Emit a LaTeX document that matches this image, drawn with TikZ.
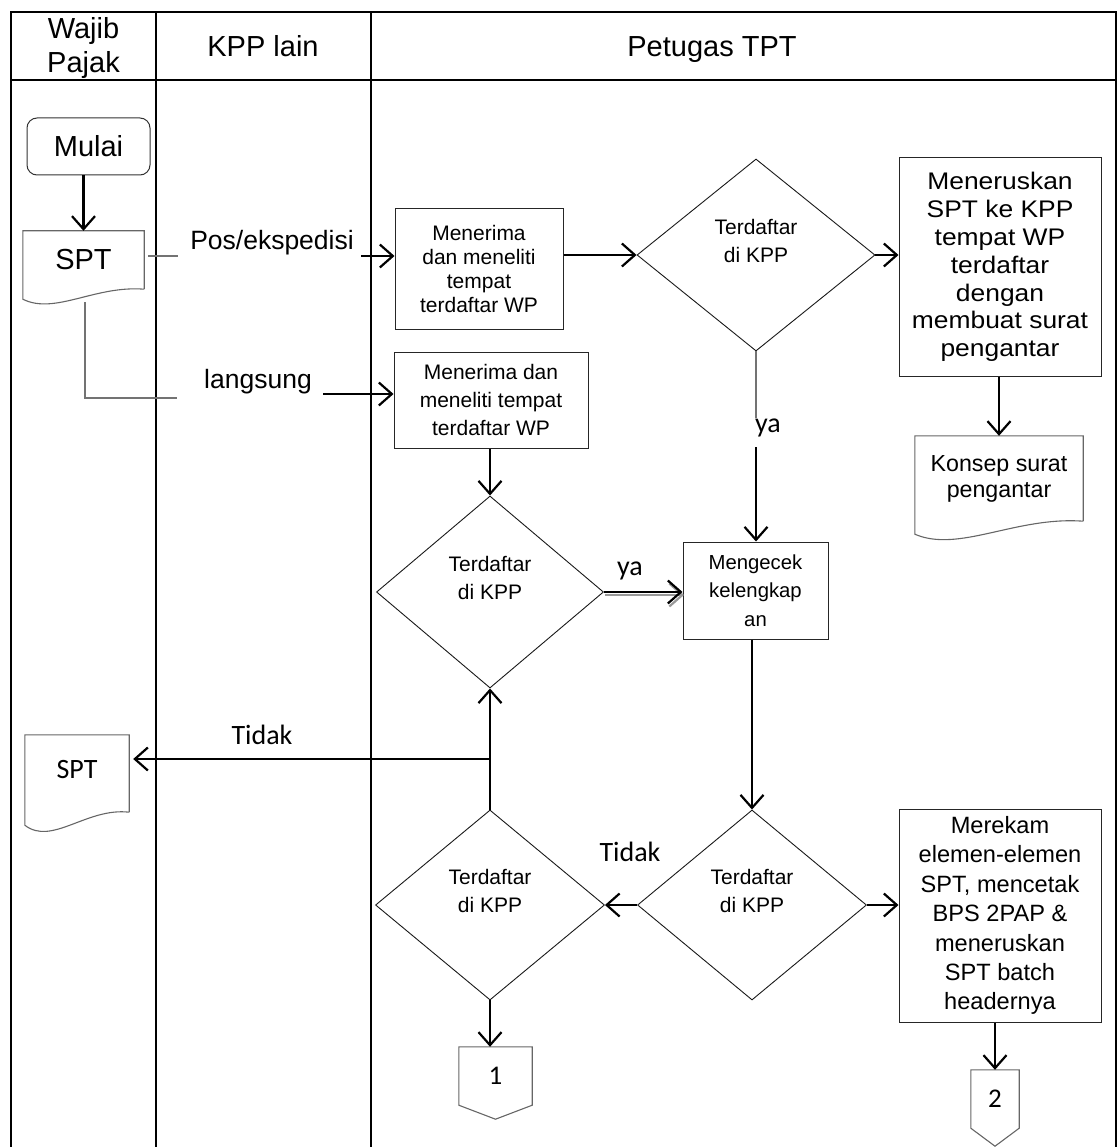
\documentclass[tikz,border=0pt]{standalone}
\usepackage{fontspec}
\setmainfont{Liberation Sans}
\newfontfamily\calibfont{Carlito}
\newfontfamily\boxsanswide[FakeStretch=1.1]{Liberation Sans}
\usetikzlibrary{arrows.meta,shapes.geometric,calc}

\begin{document}
\begin{tikzpicture}[x=1pt,y=-1pt,
  lane/.style={line width=2.6pt},
  hdr/.style={font=\fontsize{29}{33.5}\selectfont, align=center},
  procbox/.style={rectangle, draw=black!85, line width=1pt, align=center, inner sep=0pt},
  decision/.style={diamond, draw=black!90, line width=0.9pt, inner sep=0pt},
  dtext/.style={align=center, font=\fontsize{21}{28}\selectfont},
  docbody/.style={rectangle, inner sep=0pt, align=center},
  docline/.style={draw=black!60, line width=1.1pt},
  flow/.style={line width=2.2pt, -{Straight Barb[length=13pt,width=23pt]}},
  feed/.style={draw=black!55, line width=1.2pt},
  calabel/.style={font=\calibfont\fontsize{28}{30}\selectfont, anchor=base},
  sanslabel/.style={font=\fontsize{26.5}{30}\selectfont, anchor=base},
]
\useasboundingbox (0,0) rectangle (1117,1147);
\clip (0,0) rectangle (1117,1147);

% swimlane frame
\draw[lane] (11,1170) -- (11,12) -- (1116,12) -- (1116,1170);
\draw[lane] (11,80) -- (1116,80);
\draw[lane] (156,12) -- (156,1170);
\draw[lane] (371,12) -- (371,1170);

% lane headers
\node[hdr] (hWP) at (83.5,48) {Wajib\\Pajak};
\node[hdr, anchor=base] (hKPP) at (263,57) {KPP lain};
\node[hdr, anchor=base] (hTPT) at (712,57) {Petugas TPT};

% start and source document
\node[rectangle, rounded corners=10pt, draw=black!80, line width=1pt,
      minimum width=123pt, minimum height=57pt,
      font=\fontsize{29}{30}\selectfont] (mulai) at (88.5,146.5) {Mulai};
\node[docbody, minimum width=121pt, minimum height=58pt,
      font=\fontsize{29}{30}\selectfont] (spt1) at (83.5,260) {SPT};
\draw[docline] (spt1.south east) -- (spt1.north east) -- (spt1.north west)
  -- ($(spt1.south west)+(0,10)$)
  .. controls ($(spt1.south west)+(32,26)$) and ($(spt1.south west)+(72,-4)$) .. (spt1.south east);

% returned document
\node[docbody, minimum width=104pt, minimum height=77pt,
      font=\calibfont\fontsize{28}{30}\selectfont] (spt2) at (77,773.5) {\raisebox{8pt}{SPT}};
\draw[docline] (spt2.south east) -- (spt2.north east) -- (spt2.north west)
  -- ($(spt2.south west)+(0,13)$)
  .. controls ($(spt2.south west)+(27,34)$) and ($(spt2.south west)+(62,-5)$) .. (spt2.south east);

% process boxes
\node[procbox, minimum width=168pt, minimum height=120pt,
      font=\fontsize{21}{24.3}\selectfont] (boxA) at (479,269)
      {Menerima\\dan meneliti\\tempat\\terdaftar WP};
\node[procbox, minimum width=194pt, minimum height=96pt,
      font=\fontsize{21}{28.3}\selectfont] (boxB) at (491,400)
      {Menerima dan\\meneliti tempat\\terdaftar WP};
\node[procbox, minimum width=202pt, minimum height=218pt,
      font=\boxsanswide\fontsize{24}{27.8}\selectfont] (boxC) at (1000,267)
      {Meneruskan\\SPT ke KPP\\tempat WP\\terdaftar\\dengan\\membuat surat\\pengantar};
\node[procbox, minimum width=145pt, minimum height=97pt,
      font=\fontsize{20.3}{28.3}\selectfont] (boxE) at (755.5,590.5)
      {Mengecek\\kelengkap\\an};
\node[procbox, minimum width=202pt, minimum height=213pt,
      font=\fontsize{23.6}{29.4}\selectfont] (boxF) at (1000,915.5)
      {Merekam\\elemen-elemen\\SPT, mencetak\\BPS 2PAP \&\\meneruskan\\SPT batch\\headernya};

% covering letter draft
\node[docbody, minimum width=168pt, minimum height=85pt,
      font=\fontsize{23.2}{26}\selectfont] (konsep) at (999,478.5)
      {Konsep surat\\pengantar};
\draw[docline] (konsep.south east) -- (konsep.north east) -- (konsep.north west)
  -- ($(konsep.south west)+(0,13)$)
  .. controls ($(konsep.south west)+(44,32)$) and ($(konsep.south west)+(101,-5)$) .. (konsep.south east);

% decisions
\node[decision, minimum width=238pt, minimum height=192pt] (d1) at (756,255) {};
\node[dtext] (d1t) at ([yshift=14pt]d1.center) {Terdaftar\\di KPP};
\node[decision, minimum width=227pt, minimum height=192pt] (d2) at (490,592) {};
\node[dtext] (d2t) at ([yshift=14pt]d2.center) {Terdaftar\\di KPP};
\node[decision, minimum width=229pt, minimum height=190pt] (d3) at (752,905) {};
\node[dtext] (d3t) at ([yshift=14pt]d3.center) {Terdaftar\\di KPP};
\node[decision, minimum width=229pt, minimum height=190pt] (d4) at (490,905) {};
\node[dtext] (d4t) at ([yshift=14pt]d4.center) {Terdaftar\\di KPP};

% off-page connectors
\node[docbody, minimum width=73pt, minimum height=58pt,
      font=\calibfont\fontsize{27}{30}\selectfont] (op1) at (495.5,1076) {1};
\draw[docline] (op1.north west) -- (op1.north east) -- (op1.south east)
  -- ($(op1.south)+(0,14)$) -- (op1.south west) -- cycle;
\node[docbody, minimum width=48pt, minimum height=58pt,
      font=\calibfont\fontsize{27}{30}\selectfont] (op2) at (995,1099) {2};
\draw[docline] (op2.north west) -- (op2.north east) -- (op2.south east)
  -- ($(op2.south)+(0,18)$) -- (op2.south west) -- cycle;

% connector labels
\node[sanslabel] (lpos) at (272,250) {Pos/ekspedisi};
\node[sanslabel] (llang) at (258,388) {langsung};
\node[calabel] (lya1) at (768,432) {ya};
\node[calabel] (lya2) at (630,575) {ya};
\node[calabel] (ltid1) at (262,744) {Tidak};
\node[calabel] (ltid2) at (630,861) {Tidak};

% free ends of the delivery lines
\coordinate (posE) at (178,256);
\coordinate (posA) at (361,256);
\coordinate (lgS) at (85,302);
\coordinate (lgE) at (177,398);
\coordinate (lgA) at (323,394);
\coordinate (yaA) at (756,418);
\coordinate (yaB) at (756,447);
\coordinate (brk) at (490,759);
\coordinate (yaEnd) at (boxE.west |- d2.east);

% connectors
\draw[flow] (mulai.south -| spt1.north) -- (spt1.north);
\draw[feed] ([xshift=4pt]spt1.east |- posE) -- (posE);
\draw[flow] (posA) -- (boxA.west |- posA);
\draw[feed] (lgS) |- (lgE);
\draw[flow] (lgA) -- (boxB.west |- lgA);
\draw[flow] (boxA.east |- d1.west) -- (d1.west);
\draw[flow] (d1.east) -- (boxC.west |- d1.east);
\draw[flow] (boxC.south -| konsep.north) -- (konsep.north);
\draw[feed] (d1.south) -- (yaA);
\draw[flow] (yaB) -- (yaB |- boxE.north);
\draw[flow] (boxB.south -| d2.north) -- (d2.north);
\draw[flow, draw=black!40] ([shift={(1.5,3)}]d2.east) -- ([shift={(1.5,3)}]yaEnd);
\draw[flow] (d2.east) -- (yaEnd);
\draw[flow] (boxE.south -| d3.north) -- (d3.north);
\draw[flow] (d3.west) -- (d4.east);
\draw[flow] (d3.east) -- (boxF.west |- d3.east);
\draw[flow] (d4.north) -- (d2.south);
\draw[flow, shorten >=4pt] (brk) -- (spt2.east |- brk);
\draw[flow] (d4.south) -- (d4.south |- op1.north);
\draw[flow] (boxF.south -| op2.north) -- (op2.north);
\end{tikzpicture}
\end{document}
